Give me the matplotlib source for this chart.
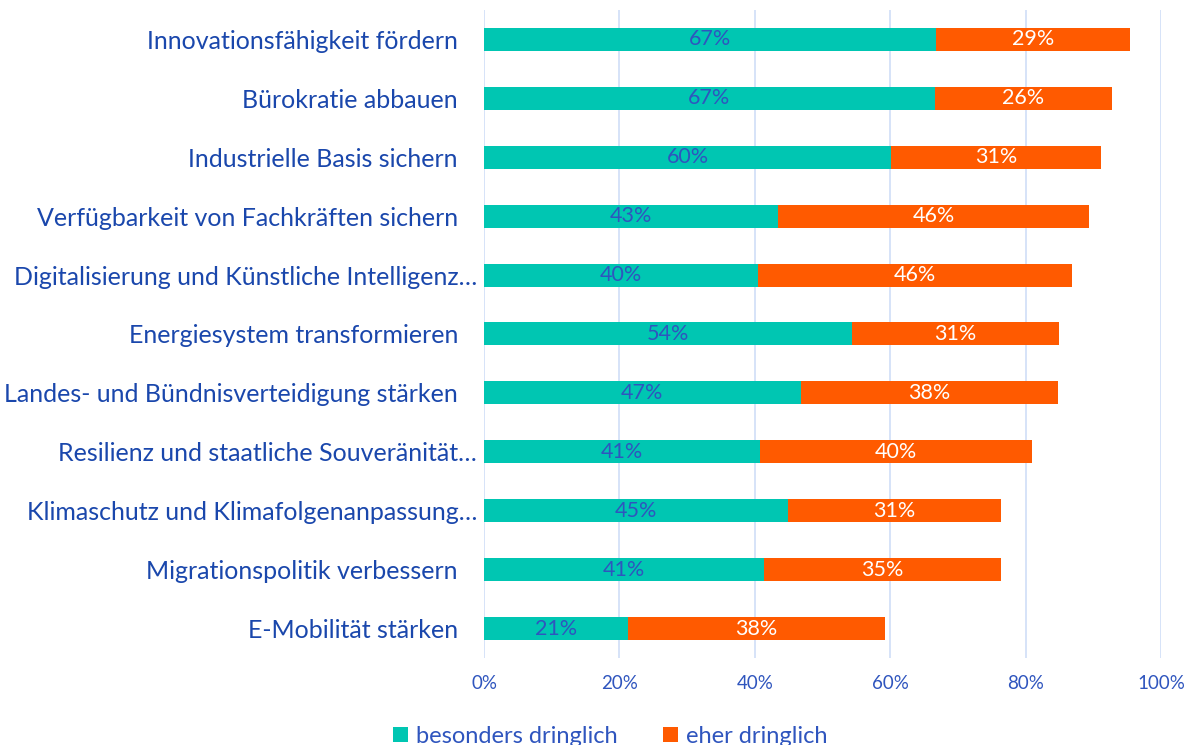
import numpy as np
import matplotlib
matplotlib.use('Agg')
import matplotlib.pyplot as plt

# categories top to bottom
kategorien = ['Innovationsfähigkeit fördern   ',
              'Bürokratie abbauen   ',
              'Industrielle Basis sichern   ',
              'Verfügbarkeit von Fachkräften sichern   ',
              'Digitalisierung und Künstliche Intelligenz…',
              'Energiesystem transformieren   ',
              'Landes- und Bündnisverteidigung stärken   ',
              'Resilienz und staatliche Souveränität…',
              'Klimaschutz und Klimafolgenanpassung…',
              'Migrationspolitik verbessern   ',
              'E-Mobilität stärken   ']
besonders = [66.7, 66.6, 60.1, 43.4, 40.4, 54.3, 46.8, 40.7, 44.9, 41.3, 21.3]
eher = [28.7, 26.1, 31.0, 46.0, 46.4, 30.7, 38.0, 40.3, 31.4, 35.0, 37.9]
xticks = [0, 20, 40, 60, 80, 100]
serien = ['besonders dringlich', 'eher dringlich']

gruen = '#00C6B2'
orange = '#FF5A00'
blau_text = '#1A47AC'
blau_tick = '#2F55BE'
gitter = '#D0DEF7'

plt.rcParams['font.family'] = ['Lato', 'DejaVu Sans']

fig = plt.figure(figsize=(11.91, 7.45), dpi=100)
ax = fig.add_axes([0.4064, 0.1168, 0.5684, 0.8698])

y = np.arange(len(kategorien))
b = np.array(besonders)
e = np.array(eher)
h1 = ax.barh(y, b, height=0.39, color=gruen, label=serien[0], zorder=3)
h2 = ax.barh(y, e, left=b, height=0.39, color=orange, label=serien[1], zorder=3)

for i in range(len(y)):
    ax.text(b[i] / 2, y[i], '%d%%' % round(b[i]), ha='center', va='center',
            color=blau_tick, fontsize=15.5, zorder=4)
    ax.text(b[i] + e[i] / 2, y[i], '%d%%' % round(e[i]), ha='center', va='center',
            color='white', fontsize=15.5, zorder=4)

ax.set_xlim(0, 100)
ax.set_ylim(len(kategorien) - 0.5, -0.5)
ax.set_xticks(xticks)
ax.set_xticklabels(['%d%%' % t for t in xticks], color=blau_tick, fontsize=13.5)
ax.set_yticks(y)
ax.set_yticklabels(kategorien, color=blau_text, fontsize=18)
ax.tick_params(axis='both', length=0)
ax.tick_params(axis='x', pad=12)
ax.tick_params(axis='y', pad=5)
ax.xaxis.grid(True, color=gitter, linewidth=1.2, zorder=0)
for s in ax.spines.values():
    s.set_visible(False)

fig.legend(handles=[h1, h2], labels=serien, loc='center', bbox_to_anchor=(0.5125, 0.012),
           ncol=2, frameon=False, fontsize=17, handlelength=0.62, handleheight=0.62,
           handletextpad=0.35, columnspacing=1.9, labelcolor=blau_tick)

fig.savefig('out.png', dpi=100)
